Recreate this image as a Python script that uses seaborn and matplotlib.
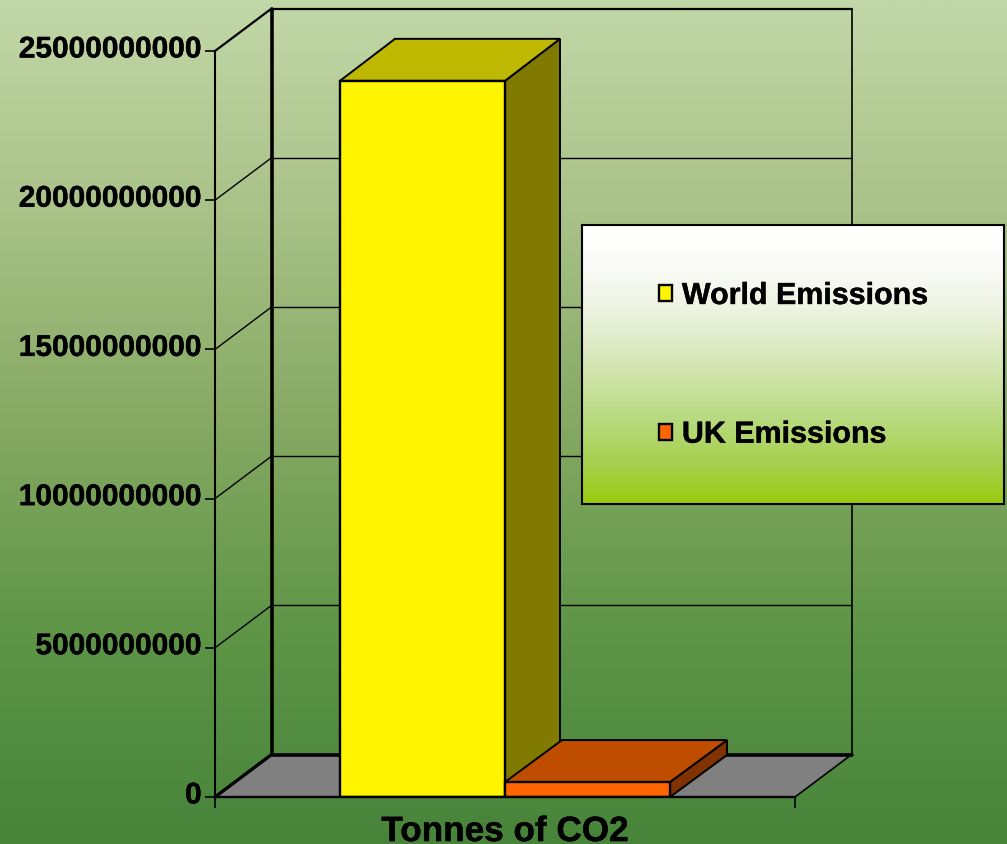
import numpy as np
import pandas as pd
import matplotlib
matplotlib.use("Agg")
import matplotlib.pyplot as plt
import matplotlib.patheffects as pe
from matplotlib.colors import LinearSegmentedColormap, to_rgb
from matplotlib.patches import Polygon, Rectangle
from matplotlib.transforms import Affine2D, IdentityTransform
import seaborn as sns

# Chart data
metric = ["Tonnes of CO2"]
series_names = ["World Emissions", "UK Emissions"]
world_tonnes = [24000000000]
uk_tonnes = [500000000]
y_ticks = [0, 5000000000, 10000000000, 15000000000, 20000000000, 25000000000]

# Styling
series_colors = {"World Emissions": "#FFF500", "UK Emissions": "#FF6600"}
FONT = ["Liberation Sans", "DejaVu Sans"]
FONT_SIZE = 21.5
LABEL_SIZE = 25.3
LEGEND_SIZE = 21.9
WIDTH, HEIGHT = 1007, 844
WALL_DX, WALL_DY = 56.5, 42.4
BAR_DX = [55, 57]
HEAVY = [pe.withStroke(linewidth=0.3, foreground="black")]

sns.set_style("white")
plt.rcParams["font.family"] = FONT
plt.rcParams["font.weight"] = "bold"
plt.rcParams["text.color"] = "black"
plt.rcParams["xtick.labelcolor"] = "black"
plt.rcParams["ytick.labelcolor"] = "black"

fig = plt.figure(figsize=(WIDTH / 100, HEIGHT / 100), dpi=100)


def px_rect(left, top, right, bottom):
    return [left / WIDTH, 1 - bottom / HEIGHT, (right - left) / WIDTH, (bottom - top) / HEIGHT]


# Page background
bg_ax = fig.add_axes([0, 0, 1, 1], zorder=0)
bg_cmap = LinearSegmentedColormap.from_list(
    "page", ["#C2D7A8", "#A9C288", "#86A963", "#5E9547", "#47843A"]
)
bg_ax.imshow(np.linspace(0, 1, 512)[:, None], cmap=bg_cmap, aspect="auto")
bg_ax.axis("off")

# Front plane of the chart box
ax = fig.add_axes(px_rect(215, 51, 795, 797), zorder=1)
ax.patch.set_visible(False)

frame = pd.DataFrame(
    {
        "metric": metric * 2,
        "series": series_names,
        "tonnes": world_tonnes + uk_tonnes,
    }
)
sns.barplot(
    data=frame,
    x="metric",
    y="tonnes",
    hue="series",
    hue_order=series_names,
    palette=series_colors,
    width=0.569,
    gap=0,
    saturation=1,
    edgecolor="black",
    linewidth=1.7,
    errorbar=None,
    ax=ax,
)
if ax.get_legend() is not None:
    ax.get_legend().remove()

ax.set_xlim(-0.5, 0.5)
ax.set_ylim(0, 25000000000)
ax.set_yticks(y_ticks)
ax.set_yticklabels([str(v) for v in y_ticks], fontsize=FONT_SIZE, fontweight="bold", color="black")
ax.set_xlabel("")
ax.set_ylabel("")
ax.set_xticks([0])
ax.set_xticklabels(metric, fontsize=LABEL_SIZE, fontweight="bold", color="black")
ax.set_xticks([-0.5, 0.5], minor=True)
ax.tick_params(axis="x", which="major", length=0, pad=13)
ax.tick_params(axis="x", which="minor", length=8, width=1.2, color="black", bottom=True)
ax.tick_params(axis="y", length=7, width=1.2, color="black", pad=2.6, left=True)
for label in ax.get_yticklabels():
    label.set_verticalalignment("center")
    label.set_transform(label.get_transform() + Affine2D().translate(0, 1.5))
    label.set_path_effects(HEAVY)
for label in ax.get_xticklabels():
    label.set_path_effects(HEAVY)
sns.despine(ax=ax)
ax.spines["left"].set_linewidth(1.5)
ax.spines["left"].set_color("black")
ax.spines["bottom"].set_linewidth(1.7)
ax.spines["bottom"].set_color("black")
ax.spines["left"].set_zorder(2)
ax.spines["bottom"].set_zorder(6)

back = ax.transData + Affine2D().translate(WALL_DX, WALL_DY)


def to_px(x, y, dx=0, dy=0):
    px, py = ax.transData.transform((x, y))
    return px + dx, py + dy


def add_px(artist):
    artist.set_transform(IdentityTransform())
    artist.set_clip_on(False)
    ax.add_artist(artist)


# Back wall gridlines and the diagonals across the side wall
for value in y_ticks[1:]:
    lw = 1.6 if value == y_ticks[-1] else 1.0
    ax.plot([-0.5, 0.5], [value, value], transform=back, color="black",
            lw=lw, clip_on=False, zorder=1)
    a, b = to_px(-0.5, value), to_px(-0.5, value, WALL_DX, WALL_DY)
    ax.plot([a[0], b[0]], [a[1], b[1]], transform=IdentityTransform(), color="black",
            lw=lw, clip_on=False, zorder=1)

ax.plot([-0.5, -0.5], [0, y_ticks[-1]], transform=back, color="black", lw=2.6,
        clip_on=False, zorder=1.2)
ax.plot([0.5, 0.5], [0, y_ticks[-1]], transform=back, color="black", lw=1.2,
        clip_on=False, zorder=1.2)

# Floor
floor = Polygon(
    [to_px(-0.5, 0), to_px(0.5, 0), to_px(0.5, 0, WALL_DX, WALL_DY), to_px(-0.5, 0, WALL_DX, WALL_DY)],
    closed=True, facecolor="#808080", edgecolor="none", zorder=1.5,
)
add_px(floor)
ax.plot([-0.5, 0.5], [0, 0], transform=back, color="black", lw=2.6, clip_on=False, zorder=1.6)
for x_end, lw in ((-0.5, 2.4), (0.5, 1.2)):
    a, b = to_px(x_end, 0), to_px(x_end, 0, WALL_DX, WALL_DY)
    ax.plot([a[0], b[0]], [a[1], b[1]], transform=IdentityTransform(), color="black",
            lw=lw, clip_on=False, zorder=1.6)

# Extrude every bar: a lighter top and a darker side, both from the bar's own geometry
for bar, bar_dx in zip(ax.patches, BAR_DX):
    x0, x1 = bar.get_x(), bar.get_x() + bar.get_width()
    h = bar.get_height()
    base = np.array(to_rgb(bar.get_facecolor()))
    top = Polygon(
        [to_px(x0, h), to_px(x1, h), to_px(x1, h, bar_dx, 42), to_px(x0, h, bar_dx, 42)],
        closed=True, facecolor=base * 0.75, edgecolor="black", linewidth=1.4, zorder=3,
        joinstyle="miter",
    )
    side = Polygon(
        [to_px(x1, 0), to_px(x1, h), to_px(x1, h, bar_dx, 42), to_px(x1, 0, bar_dx, 42)],
        closed=True, facecolor=base * 0.5, edgecolor="black", linewidth=1.4, zorder=3,
        joinstyle="miter",
    )
    add_px(side)
    add_px(top)
    bar.set_zorder(4)
    bar.set_joinstyle("miter")

# Gradient legend panel
leg_ax = fig.add_axes(px_rect(582, 225, 1004, 504), zorder=3)
leg_cmap = LinearSegmentedColormap.from_list(
    "legend",
    [(0, "#FFFFFF"), (0.15, "#FAFBF7"), (0.3, "#EEF3E2"), (0.5, "#D5E6B5"),
     (0.7, "#B8DA7F"), (0.85, "#A8D050"), (1, "#99CC0F")],
)
leg_ax.imshow(np.linspace(0, 1, 512)[:, None], cmap=leg_cmap, aspect="auto")
leg_ax.set_xticks([])
leg_ax.set_yticks([])
for spine in leg_ax.spines.values():
    spine.set_visible(True)
    spine.set_color("black")
    spine.set_linewidth(1.5)

legend_handles = [
    Rectangle((0, 0), 1, 1, facecolor=series_colors[name], edgecolor="black", linewidth=1.7)
    for name in series_names
]
legend = leg_ax.legend(
    legend_handles,
    series_names,
    frameon=False,
    loc="center left",
    bbox_to_anchor=(0.182, 0.497),
    borderaxespad=0,
    borderpad=0,
    prop={"family": FONT, "size": LEGEND_SIZE, "weight": "bold"},
    labelcolor="black",
    handlelength=0.44,
    handleheight=0.44,
    handletextpad=0.32,
    labelspacing=3.64,
)
for text in legend.get_texts():
    text.set_path_effects(HEAVY)

fig.savefig("out.png", dpi=100)
